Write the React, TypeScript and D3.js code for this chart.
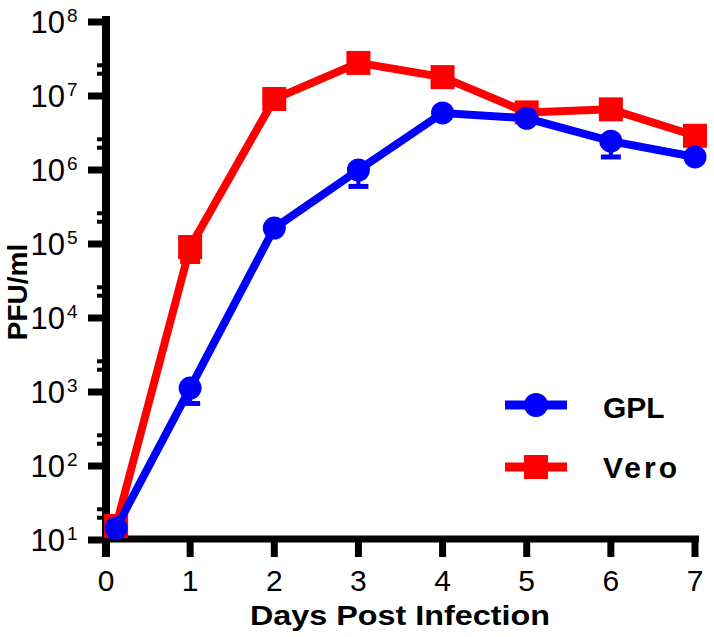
import React from "react";
import * as d3 from "d3";

const days = [0.12, 1, 2, 3, 4, 5, 6, 7];
const gplValues = [14.5, 1130, 1.64e5, 1.0e6, 5.9e6, 5.0e6, 2.45e6, 1.5e6];
const gplErrLow = [null, 700, null, 6.0e5, null, null, 1.5e6, null];
const veroValues = [15.5, 9.1e4, 9.1e6, 2.8e7, 1.8e7, 6.0e6, 6.6e6, 2.9e6];
const veroErrLow = [null, 5.8e4, null, null, null, null, null, null];
const xTicks = [0, 1, 2, 3, 4, 5, 6, 7];
const yExponents = [1, 2, 3, 4, 5, 6, 7, 8];
const seriesNames = ["GPL", "Vero"];

const W = 714;
const H = 637;
const FONT = "'Liberation Sans', Arial, sans-serif";

export default function App() {
  const x = d3.scaleLinear().domain([0, 7]).range([106, 695]);
  const y = d3.scaleLog().domain([10, 1e8]).range([540, 22]);
  const line = d3
    .line<[number, number]>()
    .x((d) => x(d[0]))
    .y((d) => y(d[1]));

  const gplPts: [number, number][] = days.map((d, i) => [d, gplValues[i]]);
  const veroPts: [number, number][] = days.map((d, i) => [d, veroValues[i]]);

  const minorTicks: number[] = [];
  yExponents.slice(0, -1).forEach((e) => {
    minorTicks.push(2 * Math.pow(10, e));
    minorTicks.push(2.6 * Math.pow(10, e));
  });

  const blue = "#0000ff";
  const red = "#ff0000";

  const errBars = (vals: number[], errs: (number | null)[], color: string) =>
    errs.map((e, i) =>
      e == null ? null : (
        <g key={i}>
          <line x1={x(days[i])} x2={x(days[i])} y1={y(vals[i])} y2={y(e)} stroke={color} strokeWidth={4} />
          <line x1={x(days[i]) - 10} x2={x(days[i]) + 10} y1={y(e)} y2={y(e)} stroke={color} strokeWidth={5} />
        </g>
      )
    );

  return (
    <svg width={W} height={H} style={{ position: "absolute", left: 0, top: 0, background: "#fff" }} fontFamily={FONT}>
      <rect x={0} y={0} width={W} height={H} fill="#fff" />
      {/* Axes */}
      <line x1={106} x2={106} y1={16} y2={557} stroke="#000" strokeWidth={8} />
      <line x1={102} x2={699} y1={539} y2={539} stroke="#000" strokeWidth={7} />
      {xTicks.map((t) => (
        <g key={t}>
          <line x1={x(t)} x2={x(t)} y1={539} y2={557} stroke="#000" strokeWidth={7} />
          <text x={x(t)} y={591} fontSize={30} textAnchor="middle" fill="#000">
            {t}
          </text>
        </g>
      ))}
      {yExponents.map((e) => (
        <g key={e}>
          <line x1={88} x2={106} y1={y(Math.pow(10, e))} y2={y(Math.pow(10, e))} stroke="#000" strokeWidth={7} />
          <text x={65} y={y(Math.pow(10, e)) + 11} fontSize={31} textAnchor="end" fill="#000">
            10
          </text>
          <text x={67} y={y(Math.pow(10, e)) + 0} fontSize={19} textAnchor="start" fill="#000">
            {e}
          </text>
        </g>
      ))}
      {minorTicks.map((v, i) => (
        <line key={i} x1={97} x2={106} y1={y(v)} y2={y(v)} stroke="#000" strokeWidth={4} />
      ))}
      <text
        x={400}
        y={625}
        fontSize={28}
        fontWeight="bold"
        textAnchor="middle"
        textLength={300}
        lengthAdjust="spacingAndGlyphs"
        fill="#000"
      >
        Days Post Infection
      </text>
      <text
        transform={`translate(27, 292) rotate(-90)`}
        fontSize={28}
        fontWeight="bold"
        textAnchor="middle"
        fill="#000"
      >
        PFU/ml
      </text>

      {/* Vero series */}
      {errBars(veroValues, veroErrLow, red)}
      <path d={line(veroPts) || ""} fill="none" stroke={red} strokeWidth={8} strokeLinejoin="miter" />
      {veroPts.map((p, i) => (
        <rect key={i} x={x(p[0]) - 12} y={y(p[1]) - 12} width={24} height={24} fill={red} />
      ))}

      {/* GPL series */}
      {errBars(gplValues, gplErrLow, blue)}
      <path d={line(gplPts) || ""} fill="none" stroke={blue} strokeWidth={8} strokeLinejoin="miter" />
      {gplPts.map((p, i) => (
        <circle key={i} cx={x(p[0])} cy={y(p[1])} r={11.5} fill={blue} />
      ))}

      {/* Legend */}
      <g>
        <line x1={505} x2={567} y1={405} y2={405} stroke={blue} strokeWidth={9} />
        <circle cx={536} cy={405} r={12} fill={blue} />
        <text x={603} y={418} fontSize={30} fontWeight="bold" fill="#000">
          {seriesNames[0]}
        </text>
        <line x1={505} x2={567} y1={467} y2={467} stroke={red} strokeWidth={9} />
        <rect x={524} y={455} width={24} height={24} fill={red} />
        <text x={603} y={478} fontSize={30} fontWeight="bold" letterSpacing={3} fill="#000">
          {seriesNames[1]}
        </text>
      </g>
    </svg>
  );
}
